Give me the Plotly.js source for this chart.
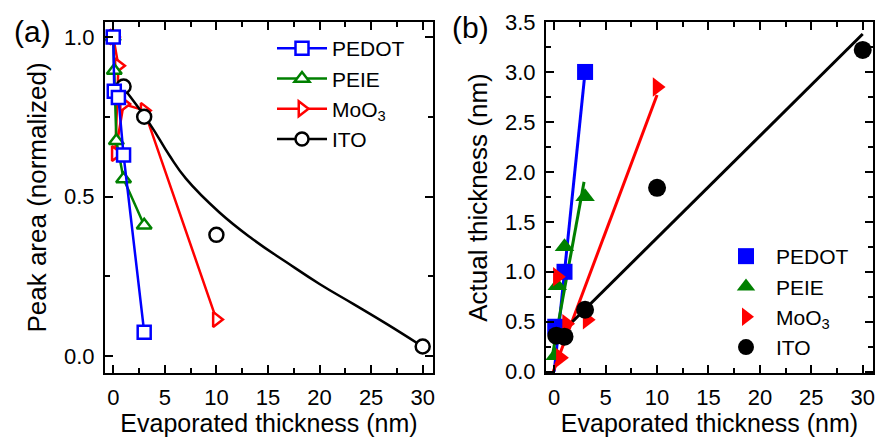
<!DOCTYPE html>
<html>
<head>
<meta charset="utf-8">
<script src="https://cdn.plot.ly/plotly-3.0.1.min.js"></script>
<style>html,body{margin:0;padding:0;background:#fff;}#chart{width:878px;height:437px;}</style>
</head>
<body>
<div id="chart"></div>
<script>
// ---------- Panel (a): normalized peak area vs evaporated thickness ----------
const seriesNames = ["PEDOT", "PEIE", "MoO<sub>3</sub>", "ITO"];
const seriesColors = ["#0000ff", "#008000", "#ff0000", "#000000"];

const pedotAreaX = [0, 0.1, 0.5, 1, 3];
const pedotAreaY = [1.0, 0.83, 0.81, 0.63, 0.075];
const peieAreaX = [0, 0.1, 0.3, 1, 3];
const peieAreaY = [1.0, 0.895, 0.675, 0.555, 0.41];
const moo3AreaX = [0, 0.5, 0.2, 1, 3, 10];
const moo3AreaY = [1.0, 0.91, 0.635, 0.79, 0.77, 0.115];
const itoAreaX = [1, 3, 10, 30];
const itoAreaY = [0.845, 0.75, 0.38, 0.03];
// ITO fitted decay curve
const itoFitX = [1, 3.48, 5.42, 7.05, 10.3, 13.5, 16.8, 20, 23.3, 26.5, 29.6];
const itoFitY = [0.84, 0.731, 0.63, 0.556, 0.45, 0.367, 0.294, 0.226, 0.163, 0.101, 0.038];

// ---------- Panel (b): actual thickness vs evaporated thickness ----------
const pedotThickX = [0.1, 1, 3];
const pedotThickY = [0.45, 1.0, 3.0];
const peieThickX = [0.1, 0.3, 1, 3];
const peieThickY = [0.16, 0.86, 1.25, 1.75];
const moo3ThickX = [0.3, 0.6, 1.2, 3.2, 10];
const moo3ThickY = [0.95, 0.14, 0.48, 0.52, 2.85];
const itoThickX = [0.2, 1, 3, 10, 30];
const itoThickY = [0.36, 0.35, 0.62, 1.84, 3.22];
// linear fits (end points)
const pedotFitX = [0, 3];     const pedotFitY = [0.0, 3.0];
const peieFitX = [-0.2, 2.9]; const peieFitY = [0.15, 1.9];
const moo3FitX = [-0.1, 10];  const moo3FitY = [0.0, 2.77];
const itoLinX = [0, 30];      const itoLinY = [0.32, 3.38];

const xTicks = [0, 5, 10, 15, 20, 25, 30];
const xTitle = "Evaporated thickness (nm)";
const yTitleA = "Peak area (normalized)";
const yTitleB = "Actual thickness (nm)";

const FONT = "Liberation Sans, Arial, sans-serif";
const LW = 2.5;

function openTrace(x, y, i, sym, rank) {
  return {x: x, y: y, name: seriesNames[i], type: "scatter", mode: "lines+markers",
    xaxis: "x", yaxis: "y", legend: "legend", legendrank: rank,
    line: {color: seriesColors[i], width: LW},
    marker: {symbol: sym, size: 13, color: "#ffffff", line: {color: seriesColors[i], width: 2.5}}};
}

const traces = [];
// draw order in (a): MoO3, ITO, PEIE, PEDOT (PEDOT on top)
traces.push(openTrace(moo3AreaX, moo3AreaY, 2, "triangle-right", 3));
traces.push({x: itoFitX, y: itoFitY, type: "scatter", mode: "lines", xaxis: "x", yaxis: "y",
  showlegend: false, line: {color: "#000", width: LW, shape: "spline", smoothing: 1.3}, hoverinfo: "skip"});
traces.push({x: itoAreaX, y: itoAreaY, type: "scatter", mode: "markers", xaxis: "x", yaxis: "y",
  showlegend: false, marker: {symbol: "circle", size: 14, color: "#ffffff", line: {color: "#000", width: 2.5}}});
traces.push({x: [null], y: [null], name: seriesNames[3], type: "scatter", mode: "lines+markers",
  xaxis: "x", yaxis: "y", legend: "legend", legendrank: 4,
  line: {color: "#000", width: LW}, marker: {symbol: "circle", size: 13, color: "#ffffff", line: {color: "#000", width: 2.5}}});
traces.push(openTrace(peieAreaX, peieAreaY, 1, "triangle-up", 2));
traces.push(openTrace(pedotAreaX, pedotAreaY, 0, "square", 1));

// (b) fit lines
[[pedotFitX, pedotFitY, 0], [peieFitX, peieFitY, 1], [moo3FitX, moo3FitY, 2], [itoLinX, itoLinY, 3]].forEach(function (f) {
  traces.push({x: f[0], y: f[1], type: "scatter", mode: "lines", xaxis: "x2", yaxis: "y2",
    showlegend: false, hoverinfo: "skip", line: {color: seriesColors[f[2]], width: 3}});
});
// (b) filled markers
[[pedotThickX, pedotThickY, 0, "square", 16], [peieThickX, peieThickY, 1, "triangle-up", 17],
 [moo3ThickX, moo3ThickY, 2, "triangle-right", 17], [itoThickX, itoThickY, 3, "circle", 18]].forEach(function (s) {
  traces.push({x: s[0], y: s[1], name: seriesNames[s[2]], type: "scatter", mode: "markers",
    xaxis: "x2", yaxis: "y2", legend: "legend2",
    marker: {symbol: s[3], size: s[4], color: seriesColors[s[2]], line: {width: 0}}});
});

function axisX(domain, anchor) {
  return {domain: domain, anchor: anchor, range: [-0.8, 31.0], tickvals: xTicks,
    ticks: "inside", ticklen: 8, tickwidth: 2, tickcolor: "#000",
    minor: {dtick: 2.5, ticks: "inside", ticklen: 5, tickwidth: 2, tickcolor: "#000"},
    showline: true, linecolor: "#000", linewidth: 2, mirror: "allticks",
    showgrid: false, zeroline: false, ticklabelstandoff: 4,
    tickfont: {family: FONT, size: 22, color: "#000"},
    title: {text: xTitle, font: {family: FONT, size: 25, color: "#000"}, standoff: 3}};
}
function axisY(domain, anchor, range, title) {
  return {domain: domain, anchor: anchor, range: range, dtick: 0.5, tick0: 0, tickformat: ".1f",
    ticks: "inside", ticklen: 8, tickwidth: 2, tickcolor: "#000",
    minor: {dtick: 0.25, ticks: "inside", ticklen: 5, tickwidth: 2, tickcolor: "#000"},
    showline: true, linecolor: "#000", linewidth: 2, mirror: "allticks",
    showgrid: false, zeroline: false, ticklabelstandoff: 4,
    tickfont: {family: FONT, size: 22, color: "#000"},
    title: {text: title, font: {family: FONT, size: 26, color: "#000"}, standoff: 10}};
}

const yDom = [1 - 373 / 437, 1 - 22 / 437];
const layout = {
  width: 878, height: 437,
  margin: {l: 0, r: 0, t: 0, b: 0},
  paper_bgcolor: "#fff", plot_bgcolor: "#fff",
  font: {family: FONT, color: "#000"},
  xaxis: axisX([105 / 878, 433 / 878], "y"),
  yaxis: axisY(yDom, "x", [-0.053, 1.047], yTitleA),
  xaxis2: axisX([546 / 878, 873 / 878], "y2"),
  yaxis2: axisY(yDom, "x2", [-0.013, 3.5], yTitleB),
  legend: {x: 272 / 878, y: 1 - 28 / 437, xanchor: "left", yanchor: "top",
    bgcolor: "rgba(0,0,0,0)", font: {family: FONT, size: 21, color: "#000"},
    itemwidth: 50, tracegroupgap: 0},
  legend2: {x: 716 / 878, y: 1 - 236 / 437, xanchor: "left", yanchor: "top",
    bgcolor: "rgba(0,0,0,0)", font: {family: FONT, size: 21, color: "#000"},
    itemwidth: 50, tracegroupgap: 0},
  showlegend: true,
  annotations: [
    {text: "(a)", x: 32 / 878, y: 1 - 32 / 437, xref: "paper", yref: "paper", showarrow: false,
      xanchor: "center", yanchor: "middle", font: {family: FONT, size: 30, color: "#000"}},
    {text: "(b)", x: 471 / 878, y: 1 - 27 / 437, xref: "paper", yref: "paper", showarrow: false,
      xanchor: "center", yanchor: "middle", font: {family: FONT, size: 30, color: "#000"}}
  ]
};

Plotly.newPlot("chart", traces, layout, {displayModeBar: false, staticPlot: true});
</script>
</body>
</html>
